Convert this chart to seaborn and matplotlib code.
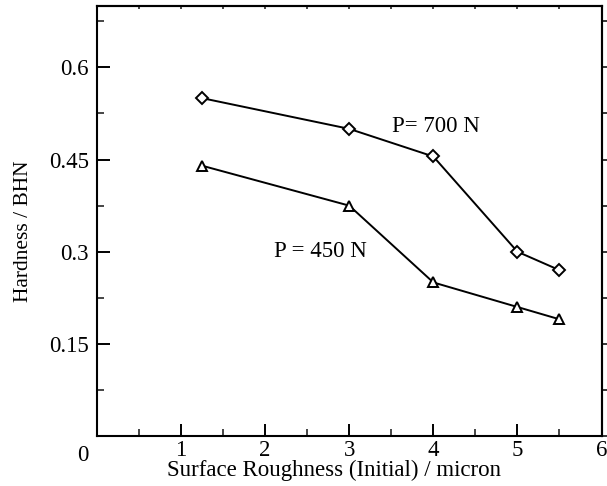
import matplotlib
matplotlib.use("Agg")
import matplotlib.pyplot as plt
import seaborn as sns
import pandas as pd
from matplotlib.ticker import MultipleLocator, FixedLocator

roughness = [1.25, 3, 4, 5, 5.5]
hard_700 = [0.55, 0.50, 0.455, 0.30, 0.27]
hard_450 = [0.44, 0.375, 0.25, 0.21, 0.19]
x_ticks = [1, 2, 3, 4, 5, 6]
y_ticks = [0.15, 0.3, 0.45, 0.6]
y_tick_labels = ["0.15", "0.3", "0.45", "0.6"]

sns.set_theme(style="ticks")
plt.rcParams['font.family'] = ['Liberation Serif', 'DejaVu Serif']

df = pd.concat([
    pd.DataFrame({"x": roughness, "y": hard_700, "load": "700"}),
    pd.DataFrame({"x": roughness, "y": hard_450, "load": "450"}),
])

fig = plt.figure(figsize=(6.07, 4.86), dpi=100)
ax = fig.add_axes([97/607, 1-436/486, (601.5-97)/607, (436-6)/486])

markers = {"700": "D", "450": "^"}
sizes = {"700": 6.5, "450": 7.5}
for load in ["700", "450"]:
    sub = df[df["load"] == load]
    sns.lineplot(data=sub, x="x", y="y", ax=ax, color="black", lw=1.4,
                 marker=markers[load], markersize=sizes[load],
                 markerfacecolor="white", markeredgecolor="black",
                 markeredgewidth=1.4, legend=False)

ax.set_xlim(0, 6)
ax.set_ylim(0, 0.7)
ax.xaxis.set_major_locator(FixedLocator(x_ticks))
ax.xaxis.set_minor_locator(MultipleLocator(0.5))
ax.set_yticks(y_ticks)
ax.set_yticklabels(y_tick_labels)
ax.yaxis.set_minor_locator(MultipleLocator(0.075))

for s in ax.spines.values():
    s.set_linewidth(1.5)
    s.set_color("black")
    s.set_visible(True)

ax.tick_params(axis="both", which="major", labelsize=16.5, colors="black", width=1.4)
ax.tick_params(axis="x", which="major", direction="in", length=9, bottom=True, top=False, pad=3)
ax.tick_params(axis="x", which="minor", direction="in", length=5, bottom=True, top=False, width=1.2)
ax.tick_params(axis="y", which="major", direction="in", length=9, left=True, right=False, pad=6)
ax.tick_params(axis="y", which="minor", direction="in", length=5, left=True, right=False, width=1.2)

# top: tiny inward ticks
ax3 = ax.secondary_xaxis("top")
ax3.xaxis.set_major_locator(FixedLocator(x_ticks))
ax3.xaxis.set_minor_locator(MultipleLocator(0.5))
ax3.tick_params(axis="x", which="both", direction="in", length=2, width=1.2, labeltop=False)
ax3.spines["top"].set_linewidth(1.5)

# right side outward ticks
ax2 = ax.secondary_yaxis("right")
ax2.set_yticks(y_ticks)
ax2.yaxis.set_minor_locator(MultipleLocator(0.075))
ax2.tick_params(axis="y", which="both", direction="out", length=6, width=1.3, labelright=False)
ax2.spines["right"].set_linewidth(1.5)

ax.set_xlabel("Surface Roughness (Initial) / micron", fontsize=16.5, color="black")
ax.set_ylabel("Hardness / BHN", fontsize=15.5, color="black")
ax.xaxis.set_label_coords(0.47, -0.055)
ax.yaxis.set_label_coords(-0.127, 0.477)

ax.text(-0.107, -0.015, "0", fontsize=16.5, ha="right", va="top", color="black")
ax.text(3.51, 0.504, "P= 700 N", fontsize=16.5, ha="left", va="center", color="black")
ax.text(2.11, 0.30, "P = 450 N", fontsize=16.5, ha="left", va="center", color="black")

fig.savefig("out.png", dpi=100)
